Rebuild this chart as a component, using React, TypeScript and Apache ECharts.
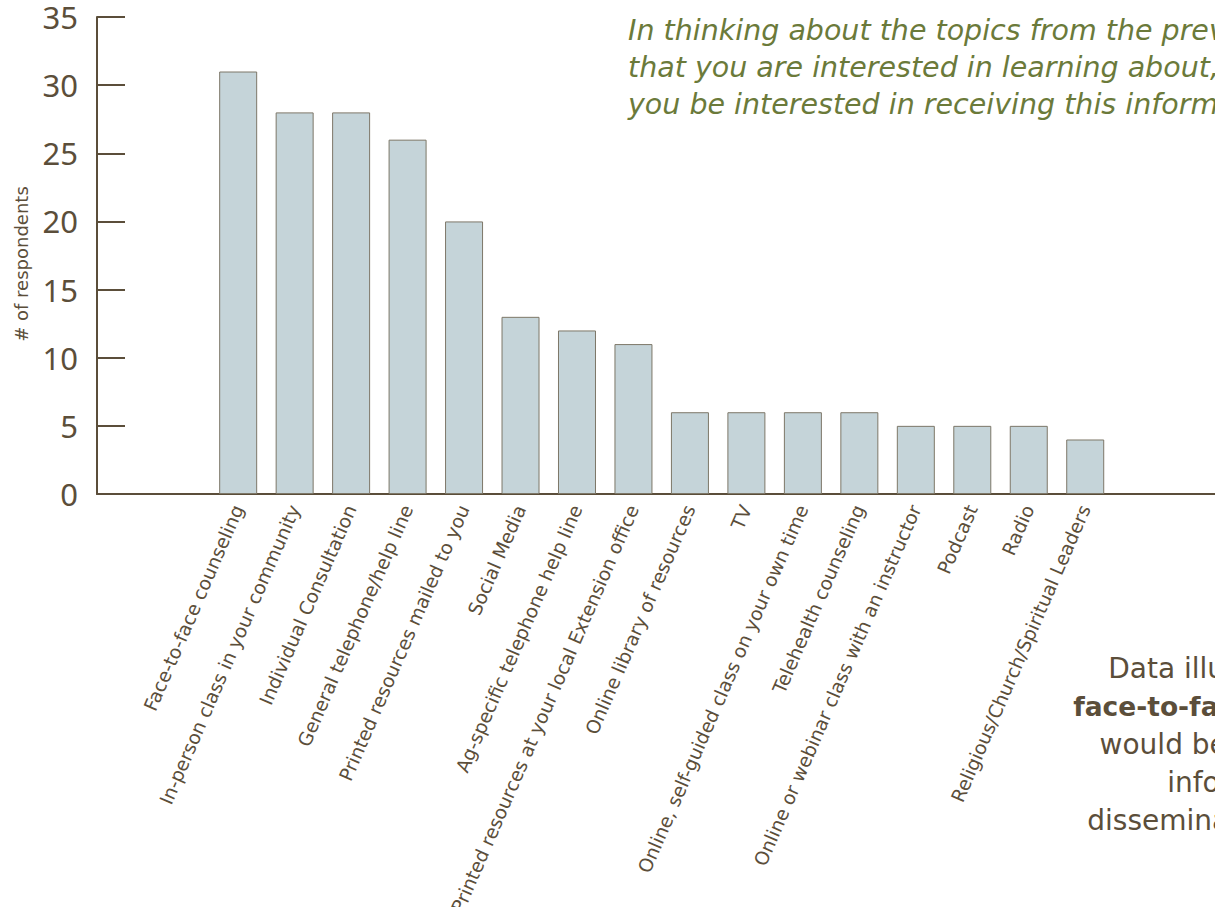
import React, { useEffect, useRef } from "react";
import * as echarts from "echarts";

const categories = [
  "", "",
  "Face-to-face counseling",
  "In-person class in your community",
  "Individual Consultation",
  "General telephone/help line",
  "Printed resources mailed to you",
  "Social Media",
  "Ag-specific telephone help line",
  "Printed resources at your local Extension office",
  "Online library of resources",
  "TV",
  "Online, self-guided class on your own time",
  "Telehealth counseling",
  "Online or webinar class with an instructor",
  "Podcast",
  "Radio",
  "Religious/Church/Spiritual Leaders",
  "", "",
];
const respondents = [null, null, 31, 28, 28, 26, 20, 13, 12, 11, 6, 6, 6, 6, 5, 5, 5, 4, null, null];
const yTicks = { min: 0, max: 35, interval: 5 };
const titleLines = [
  "In thinking about the topics from the previous question",
  "that you are interested in learning about, how would",
  "you be interested in receiving this information?",
];
const noteLines = [
  { text: "Data illustrates that", bold: false },
  { text: "face-to-face counseling", bold: true },
  { text: "would be the optimal", bold: false },
  { text: "information", bold: false },
  { text: "dissemination method.", bold: false },
];

const BROWN = "#5b4e3a";
const FONT = "'Noto Sans', 'Open Sans', sans-serif";
const WIDE = "'DejaVu Sans', 'Noto Sans', sans-serif";

export default function App() {
  const ref = useRef<HTMLDivElement>(null);
  useEffect(() => {
    document.body.style.margin = "0";
    document.body.style.overflow = "hidden";
    const chart = echarts.init(ref.current!, null, { renderer: "svg" });
    const band = 56.47;
    chart.setOption({
      animation: false,
      textStyle: { fontFamily: FONT },
      grid: {
        left: 97,
        top: 17,
        height: 477,
        width: band * categories.length,
        containLabel: false,
        outerBoundsMode: "none",
      },
      xAxis: {
        type: "category",
        data: categories,
        axisLine: { lineStyle: { color: BROWN, width: 2 } },
        axisTick: { show: false },
        axisLabel: {
          interval: 0,
          rotate: 66.5,
          fontSize: 18.8,
          color: BROWN,
          margin: 12,
          fontFamily: WIDE,
        },
      },
      yAxis: {
        type: "value",
        min: yTicks.min,
        max: yTicks.max,
        interval: yTicks.interval,
        splitLine: { show: false },
        axisLine: { show: true, lineStyle: { color: BROWN, width: 2 } },
        axisTick: { show: true, inside: true, length: 28, lineStyle: { color: BROWN, width: 2 } },
        axisLabel: { fontSize: 31, color: BROWN, margin: 19, fontFamily: FONT },
      },
      series: [
        {
          type: "bar",
          data: respondents,
          barWidth: 38,
          itemStyle: { color: "#c5d4d9", borderColor: "#7d7768", borderWidth: 1 },
        },
      ],
      graphic: [
        {
          type: "text",
          x: 21,
          y: 264,
          rotation: Math.PI / 2,
          style: {
            text: "# of respondents",
            fontSize: 18,
            fill: BROWN,
            fontFamily: WIDE,
            align: "center",
            verticalAlign: "middle",
          },
        },
        ...titleLines.map((t, i) => ({
          type: "text",
          x: 628,
          y: 30 + i * 37,
          style: {
            text: t,
            fontSize: 28.5,
            fontStyle: "italic",
            fill: "#6b7a3a",
            fontFamily: WIDE,
            align: "left",
            verticalAlign: "middle",
          },
        })),
        ...noteLines.map((l, i) => ({
          type: "text",
          x: 1248,
          y: 668 + i * 38,
          style: {
            text: l.text,
            fontSize: l.bold ? 26.5 : 28,
            fontWeight: l.bold ? "bold" : "normal",
            fill: BROWN,
            fontFamily: WIDE,
            align: "center",
            verticalAlign: "middle",
          },
        })),
      ],
    });
    return () => chart.dispose();
  }, []);
  return <div ref={ref} style={{ width: 1215, height: 907 }} />;
}
